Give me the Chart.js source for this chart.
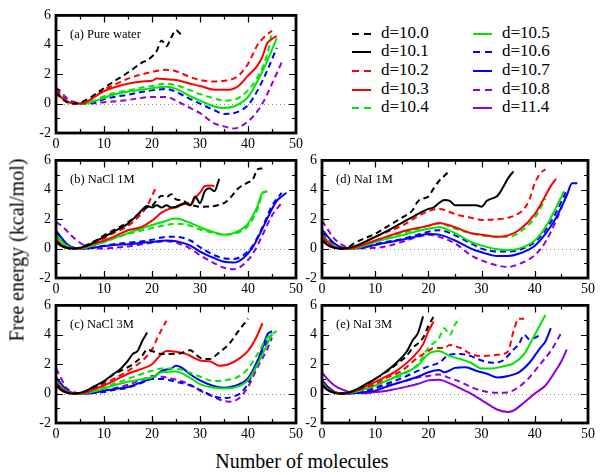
<!DOCTYPE html>
<html>
<head>
<meta charset="utf-8">
<script src="https://cdn.jsdelivr.net/npm/chart.js@4.4.0/dist/chart.umd.min.js"></script>
<style>
  body { margin: 0; background: #fff; font-family: "Liberation Serif", "Times New Roman", serif; }
  #wrap { position: relative; width: 600px; height: 475px; overflow: hidden; }
  canvas { position: absolute; }
  #ylab { position: absolute; left: 17px; top: 250px; font-size: 20px; white-space: nowrap;
          transform: translate(-50%, -50%) rotate(-90deg); }
  #xlab { position: absolute; left: 302px; top: 461px; font-size: 20px; white-space: nowrap;
          transform: translate(-50%, -50%); }
  .leg { position: absolute; font-size: 17px; line-height: 18.7px; height: 18.7px; white-space: nowrap; }
  .sw { position: absolute; width: 19px; height: 2px; top: 9px; }
</style>
</head>
<body>
<div id="wrap">
  <canvas id="pa"></canvas>
  <canvas id="pb"></canvas>
  <canvas id="pd"></canvas>
  <canvas id="pc"></canvas>
  <canvas id="pe"></canvas>
  <div id="ylab">Free energy (kcal/mol)</div>
  <div id="xlab">Number of molecules</div>
</div>
<script>
// legend entries (d values), colours and dash style
const seriesNames = ['d=10.0', 'd=10.1', 'd=10.2', 'd=10.3', 'd=10.4', 'd=10.5', 'd=10.6', 'd=10.7', 'd=10.8', 'd=11.4'];
const seriesColors = ['#000000', '#000000', '#ff0000', '#ff0000', '#00e600', '#00e600', '#0000ff', '#0000ff', '#9400d3', '#9400d3'];
const seriesDashed = [true, false, true, false, true, false, true, false, true, false];

// axis ticks
const xTicks = [0, 10, 20, 30, 40, 50];
const yTicks = [-2, 0, 2, 4, 6];

// (a) Pure water  -- [molecules, kcal/mol]
const pw_d100 = [[0,0.75],[1,0.4],[2,0.15],[3,0.02],[4,0],[5,0.05],[6,0.2],[8,0.6],[10,1.05],[12,1.5],[14,1.9],[16,2.35],[18,2.8],[19,2.95],[20,3.2],[21,3.6],[22,4.3],[23,3.9],[24,4.5],[25,5.0],[26,4.7]];
const pw_d102 = [[0,0.95],[1,0.55],[2,0.25],[3,0.08],[4,0.02],[5,0],[6,0.05],[8,0.45],[10,0.95],[12,1.25],[15,1.7],[18,2.0],[20,2.15],[23,2.3],[25,2.2],[28,1.8],[30,1.6],[33,1.5],[35,1.55],[37,1.7],[38,1.9],[40,2.7],[42,4.0],[43,4.4],[44,4.7],[45,4.95]];
const pw_d103 = [[0,0.8],[1,0.45],[2,0.2],[3,0.05],[4,0],[5,0],[6,0.05],[8,0.45],[10,0.85],[12,1.1],[15,1.35],[18,1.5],[20,1.55],[21,1.7],[23,1.65],[25,1.6],[28,1.35],[30,1.2],[33,0.95],[36,0.95],[38,1.2],[40,1.9],[42,2.6],[43,3.2],[44,4.1],[45,4.4],[46,4.6]];
const pw_d104 = [[0,0.9],[1,0.5],[2,0.2],[3,0.05],[4,0],[5,0],[6,0],[8,0.2],[10,0.5],[12,0.7],[15,0.9],[18,1.1],[20,1.2],[23,1.35],[25,1.25],[28,0.9],[30,0.65],[33,0.35],[35,0.2],[37,0.25],[40,0.9],[42,1.8],[44,3.35],[45,4.9]];
const pw_d105 = [[0,0.85],[1,0.45],[2,0.2],[3,0.05],[4,0],[6,0],[8,0.15],[10,0.4],[12,0.6],[15,0.8],[18,0.95],[20,1.05],[23,1.15],[25,1.0],[28,0.5],[30,0.2],[33,-0.2],[35,-0.3],[37,-0.2],[40,0.45],[42,1.55],[44,2.9],[46,4.45]];
const pw_d106 = [[0,1.0],[1,0.6],[2,0.25],[3,0.08],[4,0.02],[6,0],[8,0.1],[10,0.3],[12,0.45],[15,0.6],[18,0.8],[20,0.9],[23,1.0],[25,0.8],[28,0.3],[30,0],[33,-0.45],[35,-0.7],[37,-0.65],[40,-0.1],[42,0.9],[44,2.25],[46,3.8]];
const pw_d108 = [[0,1.1],[1,0.8],[2,0.45],[3,0.2],[4,0.1],[5,0.02],[6,0],[8,0.02],[10,0.1],[12,0.15],[15,0.25],[18,0.4],[20,0.45],[23,0.45],[25,0.2],[28,-0.3],[30,-0.65],[33,-1.35],[35,-1.55],[37,-1.7],[39,-1.45],[41,-0.9],[43,0],[45,1.35],[47,2.8]];

// (b) NaCl 1M
const nacl1_d100 = [[0,0.5],[1,0.25],[2,0.08],[3,0.01],[4,0],[6,0.2],[8,0.5],[10,0.9],[12,1.25],[15,1.8],[17,2.3],[19,2.8],[20,2.9],[21,3.3],[22,3.6],[23,3.5],[24,3.7],[25,3.35],[26,3.3],[28,3.0],[30,2.85],[33,2.9],[35,3.1],[36,3.35],[38,4.1],[40,4.5],[41,4.7],[42,5.4],[43,5.45]];
const nacl1_d101 = [[0,0.45],[1,0.2],[2,0.05],[3,0],[4,0],[6,0.15],[8,0.45],[10,0.8],[12,1.15],[15,1.7],[17,2.3],[19,2.9],[20,2.8],[21,2.95],[22,2.8],[23,2.95],[24,2.8],[25,2.85],[27,3.1],[28,2.95],[29,3.55],[30,3.1],[31,3.9],[32,4.1],[33,3.9],[34,4.75]];
const nacl1_d102 = [[0,0.6],[1,0.3],[2,0.1],[3,0.02],[4,0],[6,0.15],[8,0.4],[10,0.7],[12,1.05],[15,1.55],[17,2.1],[18,2.45],[19,2.9],[20,3.6],[21,4.25]];
const nacl1_d103 = [[0,0.65],[1,0.3],[2,0.1],[3,0.02],[4,0],[6,0.1],[8,0.35],[10,0.55],[12,0.8],[15,1.25],[18,1.5],[20,1.9],[22,2.45],[24,2.75],[25,2.8],[27,3.05],[28,2.95],[29,3.45],[30,3.8],[31,4.25],[32,4.3],[33,4.25]];
const nacl1_d104 = [[0,0.9],[1,0.5],[2,0.2],[3,0.05],[4,0],[6,0.05],[8,0.25],[10,0.45],[12,0.7],[15,1.0],[18,1.25],[20,1.4],[23,1.6],[25,1.7],[28,1.55],[30,1.3],[33,1.05],[35,0.95],[37,1.0],[40,1.55],[42,2.7],[43,3.7],[44,3.9]];
const nacl1_d105 = [[0,1.0],[1,0.55],[2,0.25],[3,0.08],[4,0.01],[6,0.05],[8,0.25],[10,0.45],[12,0.7],[15,1.05],[18,1.4],[20,1.6],[23,1.9],[25,2.05],[28,1.75],[30,1.45],[33,1.1],[35,0.95],[37,1.05],[40,1.7],[42,2.9],[43,3.8],[44,3.9]];
const nacl1_d106 = [[0,1.1],[1,0.7],[2,0.35],[3,0.12],[4,0.03],[5,0],[6,0],[8,0.08],[10,0.2],[12,0.3],[15,0.4],[18,0.5],[20,0.6],[23,0.8],[25,0.8],[28,0.55],[30,0.1],[33,-0.45],[35,-0.65],[37,-0.7],[39,-0.45],[41,0.2],[43,1.45],[45,2.9],[47,3.8]];
const nacl1_d107 = [[0,1.25],[1,0.8],[2,0.4],[3,0.15],[4,0.04],[5,0],[6,0],[8,0.07],[10,0.17],[12,0.25],[15,0.3],[18,0.4],[20,0.45],[23,0.55],[25,0.5],[28,0.2],[30,-0.2],[33,-0.65],[35,-0.9],[37,-0.95],[39,-0.65],[41,0.1],[43,1.35],[45,2.7],[46,3.25],[47,3.55],[48,3.8]];
const nacl1_d108 = [[0,1.8],[1,1.6],[2,1.3],[3,0.95],[4,0.65],[5,0.4],[6,0.2],[7,0.08],[8,0.02],[10,0],[12,0.05],[15,0.15],[18,0.3],[20,0.4],[23,0.5],[25,0.4],[28,0],[30,-0.45],[33,-1.0],[35,-1.3],[37,-1.4],[39,-1.1],[41,-0.35],[43,0.9],[45,2.25],[47,3.1]];

// (d) NaI 1M
const nai1_d100 = [[0,0.6],[1,0.3],[2,0.1],[3,0.02],[4,0],[5,0.1],[6,0.35],[8,0.7],[10,1.0],[12,1.45],[15,2.1],[17,2.6],[18,3.2],[19,3.4],[20,3.55],[21,4.1],[22,4.6],[23,4.95],[24,5.3]];
const nai1_d101 = [[0,0.55],[1,0.25],[2,0.08],[3,0.01],[4,0],[6,0.15],[8,0.45],[10,0.8],[12,1.15],[15,1.75],[18,2.35],[20,2.7],[21,2.8],[22,3.1],[23,3.3],[24,3.25],[25,2.95],[27,2.95],[29,2.95],[30,2.85],[31,3.25],[33,3.6],[34,4.15],[35,4.8],[36,5.25]];
const nai1_d102 = [[0,0.8],[1,0.45],[2,0.15],[3,0.03],[4,0],[6,0.1],[8,0.45],[10,0.8],[12,1.1],[15,1.55],[18,2.2],[20,2.55],[22,2.7],[25,2.35],[28,2.1],[30,1.95],[33,2.0],[35,2.1],[37,2.4],[38,2.7],[39,3.35],[40,4.45],[41,5.1],[42,5.4]];
const nai1_d103 = [[0,0.85],[1,0.45],[2,0.15],[3,0.03],[4,0],[6,0.05],[8,0.3],[10,0.55],[12,0.8],[15,1.15],[18,1.4],[20,1.55],[22,1.75],[25,1.45],[28,1.05],[30,0.95],[33,0.8],[35,0.9],[37,1.25],[40,2.35],[42,3.6],[43,4.25],[44,4.75]];
const nai1_d104 = [[0,0.9],[1,0.5],[2,0.2],[3,0.05],[4,0],[6,0.05],[8,0.25],[10,0.5],[12,0.75],[15,1.05],[18,1.35],[20,1.55],[22,1.7],[25,1.35],[28,1.05],[30,0.9],[33,0.8],[35,0.8],[38,1.35],[40,2.1],[41,2.7],[42,3.4]];
const nai1_d105 = [[0,0.95],[1,0.55],[2,0.22],[3,0.06],[4,0.01],[6,0.02],[8,0.2],[10,0.45],[12,0.65],[15,0.9],[18,1.2],[20,1.35],[22,1.45],[25,1.05],[28,0.45],[30,0.2],[33,-0.05],[35,-0.1],[37,0],[40,0.55],[42,1.45],[44,2.8],[45.5,3.9]];
const nai1_d106 = [[0,1.05],[1,0.65],[2,0.3],[3,0.1],[4,0.02],[6,0],[8,0.12],[10,0.3],[12,0.45],[15,0.65],[18,0.95],[20,1.15],[22,1.25],[25,0.9],[28,0.35],[30,0],[33,-0.2],[35,-0.2],[37,-0.1],[40,0.45],[42,1.25],[44,2.45],[46,4.0]];
const nai1_d107 = [[0,1.3],[1,0.85],[2,0.45],[3,0.18],[4,0.05],[5,0],[6,0],[8,0.1],[10,0.25],[12,0.4],[15,0.6],[18,0.85],[20,1.0],[22,0.95],[25,0.55],[28,0],[30,-0.25],[33,-0.5],[35,-0.5],[37,-0.35],[40,0.2],[42,1.0],[44,2.1],[46,3.6],[47,4.45],[48,4.45]];
const nai1_d108 = [[0,1.9],[1,1.35],[2,0.8],[3,0.45],[4,0.2],[5,0.08],[6,0.03],[8,0.02],[10,0.05],[12,0.15],[15,0.45],[18,0.8],[20,0.95],[22,0.8],[25,0.35],[28,-0.45],[30,-0.8],[33,-1.15],[35,-1.25],[37,-1.05],[40,-0.45],[42,0.45],[44,1.9],[46,3.7]];

// (c) NaCl 3M
const nacl3_d100 = [[0,0.6],[1,0.3],[2,0.1],[3,0.02],[4,0],[6,0.15],[8,0.45],[10,0.8],[12,1.3],[15,1.8],[17,2.25],[18,2.6],[19,3.0],[20,2.9],[22,2.7],[24,2.7],[26,2.75],[28,2.95],[29,2.7],[30,2.45],[31,2.35],[32,2.35],[34,2.8],[36,3.35],[38,4.25],[40,5.1]];
const nacl3_d101 = [[0,0.55],[1,0.25],[2,0.08],[3,0.01],[4,0],[6,0.15],[8,0.5],[10,0.85],[12,1.35],[13,1.55],[15,2.25],[16,2.7],[17,2.9],[18,3.6],[19,4.15]];
const nacl3_d102 = [[0,0.7],[1,0.35],[2,0.12],[3,0.03],[4,0],[6,0.1],[8,0.4],[10,0.65],[12,1.0],[15,1.55],[18,2.25],[20,3.0],[21,3.7],[22,4.35],[23,4.95]];
const nacl3_d103 = [[0,0.75],[1,0.4],[2,0.15],[3,0.03],[4,0],[6,0.05],[8,0.3],[10,0.55],[12,0.85],[15,1.35],[18,1.7],[20,2.0],[22,2.7],[23,2.9],[25,2.85],[27,2.7],[29,2.4],[30,2.25],[32,2.2],[34,1.9],[36,2.0],[38,2.35],[40,2.9],[42,4.0],[43,4.8]];
const nacl3_d104 = [[0,0.85],[1,0.45],[2,0.18],[3,0.04],[4,0],[6,0.03],[8,0.2],[10,0.4],[12,0.65],[15,1.0],[18,1.35],[20,1.55],[22,1.7],[25,1.7],[28,1.4],[30,1.15],[33,0.85],[35,0.9],[38,1.15],[40,1.7],[42,2.7],[44,3.8],[46,4.25]];
const nacl3_d105 = [[0,0.9],[1,0.5],[2,0.2],[3,0.05],[4,0],[6,0.02],[8,0.15],[10,0.35],[12,0.55],[15,0.8],[18,1.0],[20,1.1],[22,1.45],[25,1.5],[28,1.05],[30,0.65],[33,0.4],[35,0.35],[37,0.4],[40,0.9],[42,2.0],[44,3.35],[45,4.1]];
const nacl3_d106 = [[0,1.0],[1,0.6],[2,0.25],[3,0.07],[4,0.01],[6,0],[8,0.05],[10,0.1],[12,0.25],[15,0.4],[18,0.75],[20,1.0],[22,1.0],[25,0.8],[28,0.55],[30,0.25],[33,-0.2],[35,-0.3],[37,-0.2],[39,0.2],[41,1.35],[43,2.9],[44,3.6],[45,4.0]];
const nacl3_d107 = [[0,1.1],[1,0.7],[2,0.3],[3,0.1],[4,0.02],[6,0],[8,0.07],[10,0.2],[12,0.3],[15,0.45],[18,0.8],[20,1.05],[22,1.55],[24,1.7],[25,1.9],[26,1.8],[28,1.3],[30,0.9],[33,0.5],[35,0.4],[37,0.5],[40,1.05],[42,2.25],[43,3.1],[44,4.0],[45,4.25]];
const nacl3_d108 = [[0,1.7],[1,1.1],[2,0.45],[3,0.2],[4,0.07],[5,0.01],[6,0],[8,0.08],[10,0.2],[12,0.35],[15,0.6],[18,0.95],[20,1.2],[22,1.15],[25,0.95],[28,0.6],[30,0.2],[32,-0.1],[34,-0.4],[36,-0.55],[38,-0.35],[40,0.45],[42,1.8],[44,3.0],[45,3.8]];

// (e) NaI 3M
const nai3_d100 = [[0,0.6],[1,0.3],[2,0.1],[3,0.02],[4,0],[6,0.2],[8,0.55],[10,1.0],[12,1.45],[14,2.0],[16,2.6],[17,3.1],[18,3.4],[19,3.8],[20,4.6],[21,5.25]];
const nai3_d101 = [[0,0.55],[1,0.25],[2,0.08],[3,0],[4,0],[6,0.2],[8,0.6],[10,1.0],[12,1.5],[14,2.1],[16,2.9],[17,3.6],[18,4.1],[19,5.25]];
const nai3_d102 = [[0,0.65],[1,0.3],[2,0.1],[3,0.02],[4,0],[6,0.15],[8,0.4],[10,0.65],[12,1.05],[15,1.55],[18,2.45],[20,2.9],[21,3.1],[23,3.1],[24,3.3],[26,3.1],[28,2.7],[30,2.55],[32,2.6],[34,2.7],[35,2.9],[36,4.25],[37,5.1],[38,5.1]];
const nai3_d103 = [[0,0.6],[1,0.3],[2,0.1],[3,0.02],[4,0],[6,0.15],[8,0.45],[10,0.8],[12,1.15],[14,1.55],[17,2.45],[19,3.35],[20,4.25],[21,4.9]];
const nai3_d104 = [[0,0.75],[1,0.35],[2,0.12],[3,0.03],[4,0],[6,0.1],[8,0.3],[10,0.55],[12,0.85],[15,1.25],[18,2.0],[20,3.1],[22,3.8],[23,4.45],[24,4.0],[25,4.7],[26,5.15]];
const nai3_d105 = [[0,0.75],[1,0.35],[2,0.12],[3,0.03],[4,0],[6,0.1],[8,0.3],[10,0.55],[12,0.85],[15,1.35],[18,1.9],[20,2.7],[22,2.9],[24,2.55],[26,2.35],[28,2.1],[30,1.7],[32,1.7],[34,1.85],[36,2.05],[38,2.7],[40,4.0],[42,5.35]];
const nai3_d106 = [[0,0.85],[1,0.45],[2,0.15],[3,0.04],[4,0],[6,0.05],[8,0.2],[10,0.4],[12,0.65],[15,1.05],[18,1.55],[20,1.85],[22,2.1],[24,2.65],[26,2.7],[28,2.55],[30,2.25],[32,2.1],[34,2.25],[36,3.0],[37,3.35],[38,4.0],[39,3.7],[40,3.8],[41,4.0]];
const nai3_d107 = [[0,0.9],[1,0.5],[2,0.18],[3,0.05],[4,0],[6,0.02],[8,0.1],[10,0.2],[12,0.45],[15,0.8],[18,1.15],[20,1.45],[22,1.6],[23,1.45],[25,1.75],[27,1.8],[29,1.55],[31,1.35],[33,1.1],[35,1.2],[37,1.45],[39,2.1],[41,3.1],[42,3.55],[43,4.45]];
const nai3_d108 = [[0,0.9],[1,0.5],[2,0.2],[3,0.05],[4,0],[6,0.02],[8,0.15],[10,0.35],[12,0.55],[15,0.8],[18,1.1],[20,1.2],[22,1.3],[24,1.05],[26,0.8],[28,0.45],[30,0.2],[33,0.05],[35,0.1],[37,0.45],[39,1.1],[41,2.0],[43,2.9],[45,4.15]];
const nai3_d114 = [[0,1.45],[1,1.0],[2,0.65],[3,0.4],[4,0.25],[5,0.12],[6,0.05],[8,0.02],[10,0.1],[13,0.25],[15,0.4],[18,0.65],[20,0.9],[22,0.95],[24,0.7],[26,0.35],[28,0],[30,-0.45],[32,-0.9],[33,-1.1],[35,-1.25],[36,-1.15],[38,-0.6],[40,0],[42,0.55],[44,1.6],[45,2.2],[46,3.0]];

// panel layout: series = [legend index, points]
const panels = [
  { id: 'pa', left: 56, top: 14, width: 240, label: '(a) Pure water',
    series: [[0, pw_d100], [2, pw_d102], [3, pw_d103], [4, pw_d104], [5, pw_d105], [6, pw_d106], [8, pw_d108]] },
  { id: 'pb', left: 56, top: 159, width: 240, label: '(b) NaCl 1M',
    series: [[0, nacl1_d100], [1, nacl1_d101], [2, nacl1_d102], [3, nacl1_d103], [4, nacl1_d104], [5, nacl1_d105], [6, nacl1_d106], [7, nacl1_d107], [8, nacl1_d108]] },
  { id: 'pd', left: 322, top: 159, width: 266, label: '(d) NaI 1M',
    series: [[0, nai1_d100], [1, nai1_d101], [2, nai1_d102], [3, nai1_d103], [4, nai1_d104], [5, nai1_d105], [6, nai1_d106], [7, nai1_d107], [8, nai1_d108]] },
  { id: 'pc', left: 56, top: 304, width: 240, label: '(c) NaCl 3M',
    series: [[0, nacl3_d100], [1, nacl3_d101], [2, nacl3_d102], [3, nacl3_d103], [4, nacl3_d104], [5, nacl3_d105], [6, nacl3_d106], [7, nacl3_d107], [8, nacl3_d108]] },
  { id: 'pe', left: 322, top: 304, width: 266, label: '(e) NaI 3M',
    series: [[0, nai3_d100], [1, nai3_d101], [2, nai3_d102], [3, nai3_d103], [4, nai3_d104], [5, nai3_d105], [6, nai3_d106], [7, nai3_d107], [8, nai3_d108], [9, nai3_d114]] }
];

const PANEL_H = 119;
const PAD_L = 34, PAD_T = 12, PAD_R = 12, PAD_B = 22;
const SERIF = '"Liberation Serif", "Times New Roman", serif';

Chart.defaults.font.family = SERIF;
Chart.defaults.color = '#000';

// frame, inward ticks, dotted zero line and panel label
const framePlugin = {
  id: 'frame',
  beforeDatasetsDraw(chart) {
    const { ctx, chartArea: a, scales: { y } } = chart;
    const y0 = Math.round(y.getPixelForValue(0)) + 0.5;
    ctx.save();
    ctx.strokeStyle = '#888';
    ctx.lineWidth = 1;
    ctx.setLineDash([1, 3]);
    ctx.beginPath();
    ctx.moveTo(a.left, y0);
    ctx.lineTo(a.right, y0);
    ctx.stroke();
    ctx.restore();
  },
  afterDatasetsDraw(chart, args, opts) {
    const { ctx, chartArea: a, scales: { x, y } } = chart;
    ctx.save();
    ctx.strokeStyle = '#000';
    ctx.lineWidth = 1.2;
    ctx.beginPath();
    for (let v = 5; v < 50; v += 5) {
      const px = Math.round(x.getPixelForValue(v)) + 0.5;
      const len = v % 10 === 0 ? 7 : 4;
      ctx.moveTo(px, a.top); ctx.lineTo(px, a.top + len);
      ctx.moveTo(px, a.bottom); ctx.lineTo(px, a.bottom - len);
    }
    for (let v = -1; v < 6; v += 1) {
      const py = Math.round(y.getPixelForValue(v)) + 0.5;
      const len = v % 2 === 0 ? 7 : 4;
      ctx.moveTo(a.left, py); ctx.lineTo(a.left + len, py);
      ctx.moveTo(a.right, py); ctx.lineTo(a.right - len, py);
    }
    ctx.stroke();
    ctx.lineWidth = 2.8;
    ctx.strokeRect(a.left, a.top, a.right - a.left, a.bottom - a.top);
    ctx.fillStyle = '#000';
    ctx.font = '12.5px ' + SERIF;
    ctx.textBaseline = 'middle';
    ctx.fillText(opts.label, a.left + 14, a.top + 19);
    ctx.restore();
  }
};

function makePanel(p) {
  const canvas = document.getElementById(p.id);
  canvas.width = p.width + PAD_L + PAD_R;
  canvas.height = PANEL_H + PAD_T + PAD_B;
  canvas.style.left = (p.left - PAD_L) + 'px';
  canvas.style.top = (p.top - PAD_T) + 'px';

  new Chart(canvas, {
    type: 'line',
    data: {
      datasets: p.series.map(([k, pts]) => ({
        label: seriesNames[k],
        data: pts.map(([mx, e]) => ({ x: mx, y: e })),
        borderColor: seriesColors[k],
        borderWidth: 2,
        borderDash: seriesDashed[k] ? [6, 4] : [],
        pointRadius: 0,
        cubicInterpolationMode: 'monotone',
        fill: false
      }))
    },
    options: {
      responsive: false,
      animation: false,
      devicePixelRatio: 1,
      layout: { padding: { left: 0, top: PAD_T, right: PAD_R, bottom: 0 } },
      plugins: {
        legend: { display: false },
        tooltip: { enabled: false },
        frame: { label: p.label }
      },
      scales: {
        x: {
          type: 'linear', min: 0, max: 50,
          afterBuildTicks: s => { s.ticks = xTicks.map(v => ({ value: v })); },
          ticks: { font: { size: 14 }, padding: 3, maxRotation: 0 },
          grid: { display: false, drawTicks: false },
          border: { display: false },
          afterFit: s => { s.height = PAD_B; }
        },
        y: {
          type: 'linear', min: -2, max: 6,
          afterBuildTicks: s => { s.ticks = yTicks.map(v => ({ value: v })); },
          ticks: { font: { size: 14 }, padding: 5 },
          grid: { display: false, drawTicks: false },
          border: { display: false },
          afterFit: s => { s.width = PAD_L; }
        }
      }
    },
    plugins: [framePlugin]
  });
}

panels.forEach(makePanel);

// legend, two columns of five
const wrap = document.getElementById('wrap');
seriesNames.forEach((name, i) => {
  const col = Math.floor(i / 5), row = i % 5;
  const item = document.createElement('div');
  item.className = 'leg';
  item.style.left = (col === 0 ? 352 : 473) + 'px';
  item.style.top = (23.6 + row * 18.7) + 'px';
  const sw = document.createElement('div');
  sw.className = 'sw';
  sw.style.background = seriesDashed[i]
    ? 'repeating-linear-gradient(to right, ' + seriesColors[i] + ' 0 7px, transparent 7px 12px)'
    : seriesColors[i];
  const txt = document.createElement('span');
  txt.style.marginLeft = '29px';
  txt.textContent = name;
  item.appendChild(sw);
  item.appendChild(txt);
  wrap.appendChild(item);
});
</script>
</body>
</html>
